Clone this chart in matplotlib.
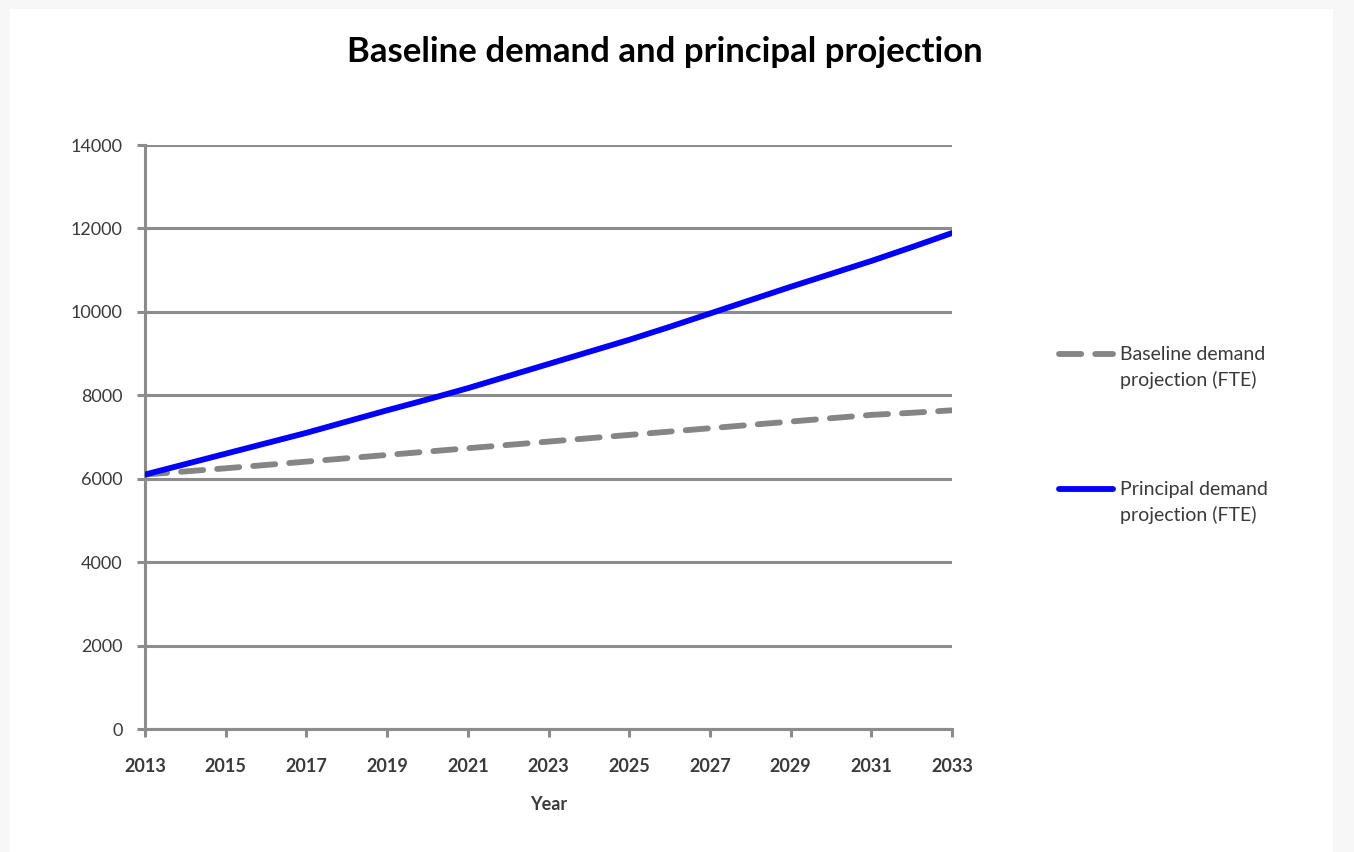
import matplotlib
matplotlib.use("Agg")
import matplotlib.pyplot as plt
from matplotlib.lines import Line2D
from matplotlib.patches import Rectangle

# data (FTE)
years = list(range(2013, 2034))
baseline = [6100, 6175, 6250, 6330, 6410, 6490, 6570, 6650, 6730, 6810, 6890,
            6970, 7050, 7130, 7210, 7290, 7370, 7450, 7530, 7580, 7640]
principal = [6100, 6350, 6600, 6850, 7100, 7370, 7640, 7900, 8170, 8460, 8750,
             9040, 9330, 9640, 9960, 10280, 10600, 10910, 11220, 11550, 11890]
x_ticks = list(range(2013, 2034, 2))
y_ticks = list(range(0, 14001, 2000))
labels = ["Baseline demand\nprojection (FTE)", "Principal demand\nprojection (FTE)"]

plt.rcParams['font.family'] = ['Lato', 'DejaVu Sans']
grid_col = '#8c8c8c'
text_col = '#3a3a3a'

fig = plt.figure(figsize=(13.54, 8.52), dpi=100)
fig.patch.set_facecolor('#f7f7f7')
fig.add_artist(Rectangle((10 / 1354, 0), (1333 - 10) / 1354, 1 - 9 / 852,
                         transform=fig.transFigure, facecolor='white',
                         edgecolor='none', zorder=0))

ax = fig.add_axes([145 / 1354, 1 - 729 / 852, (952 - 145) / 1354, (729 - 145) / 852])
ax.set_facecolor('none')

ax.plot(years, baseline, color='#858585', lw=4.2, dashes=(3.8, 2.4),
        dash_capstyle='round', solid_capstyle='round', zorder=3)
ax.plot(years, principal, color='#0000ff', lw=4.2, solid_capstyle='round', zorder=4)

ax.set_xlim(2013, 2033)
ax.set_ylim(0, 14000)
ax.set_xticks(x_ticks)
ax.set_yticks(y_ticks)
ax.yaxis.grid(True, color=grid_col, lw=2.2)
ax.set_axisbelow(True)
for s in ['top', 'right', 'bottom']:
    ax.spines[s].set_visible(False)
ax.spines['left'].set_color(grid_col)
ax.spines['left'].set_linewidth(2.2)
ax.axhline(0, color=grid_col, lw=2.2, zorder=2, clip_on=False)
ax.tick_params(axis='both', colors=grid_col, width=2.2, length=6, direction='out')
ax.tick_params(axis='x', pad=15, labelcolor=text_col, labelsize=13)
ax.tick_params(axis='y', pad=10, labelcolor=text_col, labelsize=13)
for t in ax.get_xticklabels():
    t.set_fontweight('bold')

ax.set_xlabel("Year", fontsize=13, fontweight='bold', color=text_col, labelpad=15)
fig.text(665 / 1354, 1 - 52 / 852, "Baseline demand and principal projection",
         ha='center', va='center', fontsize=25, fontweight='bold', color='black')

# legend drawn by hand to keep the handle level with the first text line
styles = [dict(color='#858585', lw=4.2, dashes=(3.8, 2.4), dash_capstyle='round'),
          dict(color='#0000ff', lw=4.2, solid_capstyle='round')]
for lab, st, yy in zip(labels, styles, [354, 489]):
    fig.add_artist(Line2D([1059 / 1354, 1113 / 1354], [1 - yy / 852] * 2,
                          transform=fig.transFigure, **st))
    fig.text(1120 / 1354, 1 - (yy - 8) / 852, lab, ha='left', va='top',
             fontsize=14, color=text_col, linespacing=1.5)

fig.savefig("out.png", dpi=100, facecolor=fig.get_facecolor())
